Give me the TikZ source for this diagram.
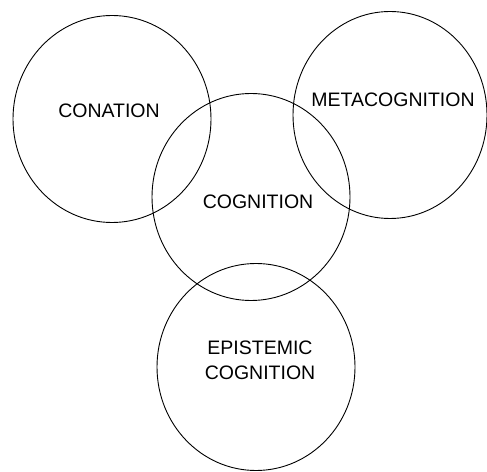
\documentclass[tikz,border=0pt]{standalone}
\usepackage{fontspec}
\setmainfont{Liberation Sans}
\begin{document}
\begin{tikzpicture}[x=1pt,y=1pt,
  ring/.style={draw=black,line width=0.9pt},
  word/.style={font=\fontsize{19.5}{25}\selectfont,inner sep=0pt,align=center}]
\useasboundingbox (0,0) rectangle (487,471);
% centres of the four domains
\coordinate (conC) at (112,352);
\coordinate (cogC) at (251,274);
\coordinate (metC) at (390,356);
\coordinate (epiC) at (256,104);
% circles
\draw[ring] (conC) ellipse [x radius=99, y radius=103.5];
\draw[ring] (cogC) ellipse [x radius=99, y radius=103.5];
\draw[ring] (metC) ellipse [x radius=97, y radius=103.5];
\draw[ring] (epiC) ellipse [x radius=99, y radius=103.5];
% labels
\node[word] (con) at (109,360) {CONATION};
\node[word] (cog) at (258,269) {COGNITION};
\node[word] (met) at (393,371) {METACOGNITION};
\node[word] (epi) at (260,111) {EPISTEMIC\\COGNITION};
\end{tikzpicture}
\end{document}
